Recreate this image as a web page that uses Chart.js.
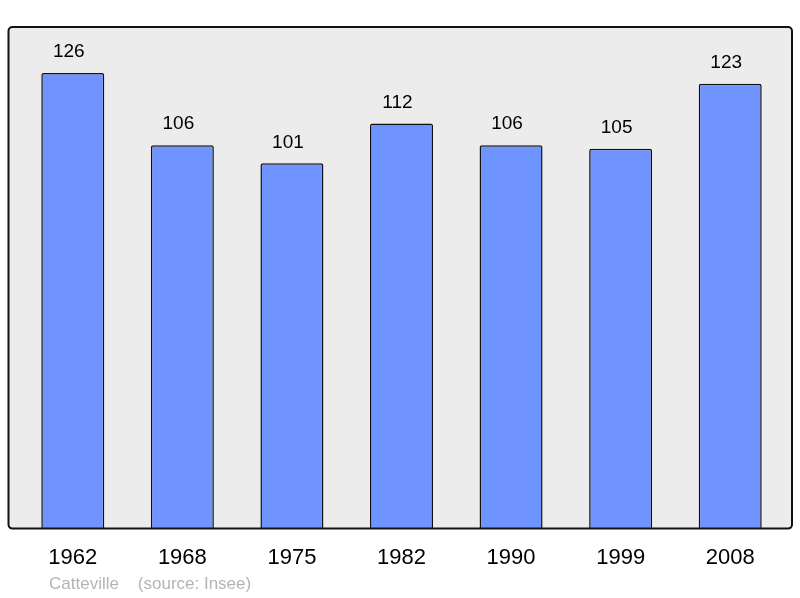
<!DOCTYPE html>
<html>
<head>
<meta charset="utf-8">
<script src="https://cdn.jsdelivr.net/npm/chart.js@4/dist/chart.umd.min.js"></script>
<style>
html,body{margin:0;padding:0;background:#fff;}
#wrap{width:800px;height:598px;position:relative;}
</style>
</head>
<body>
<div id="wrap"><canvas id="c" width="800" height="598"></canvas></div>
<script>
const years = ['1962','1968','1975','1982','1990','1999','2008'];
const population = [126,106,101,112,106,105,123];
const captionText = 'Catteville    (source: Insee)';

const FONT = '"Liberation Sans", Arial, sans-serif';

const framePlugin = {
  id: 'frame',
  beforeDatasetsDraw(chart) {
    const {ctx, chartArea: a} = chart;
    ctx.save();
    ctx.beginPath();
    ctx.roundRect(a.left - 9.5, a.top, a.right - a.left + 16.5, a.bottom - a.top, 4);
    ctx.fillStyle = '#ececec';
    ctx.fill();
    ctx.restore();
  },
  afterDatasetsDraw(chart) {
    const {ctx, chartArea: a} = chart;
    ctx.save();
    ctx.beginPath();
    ctx.roundRect(a.left - 9.5, a.top, a.right - a.left + 16.5, a.bottom - a.top, 4);
    ctx.lineWidth = 2;
    ctx.strokeStyle = '#111';
    ctx.stroke();
    // value labels
    const meta = chart.getDatasetMeta(0);
    ctx.fillStyle = '#000';
    ctx.font = '19px ' + FONT;
    ctx.textAlign = 'center';
    ctx.textBaseline = 'middle';
    meta.data.forEach((bar, i) => {
      ctx.fillText(String(chart.data.datasets[0].data[i]), bar.x - 4, bar.y - 21);
    });
    // caption
    ctx.fillStyle = '#b4b4b4';
    ctx.font = '17px ' + FONT;
    ctx.textAlign = 'left';
    ctx.fillText(captionText, 49, 584);
    ctx.restore();
  }
};

new Chart(document.getElementById('c'), {
  type: 'bar',
  data: {
    labels: years,
    datasets: [{
      data: population,
      backgroundColor: '#7094ff',
      borderColor: '#111',
      borderWidth: 1.5,
      borderRadius: 2,
      categoryPercentage: 1,
      barPercentage: 0.575
    }]
  },
  options: {
    responsive: false,
    animation: false,
    events: [],
    layout: {padding: {left: 18, right: 15, top: 27, bottom: 11}},
    plugins: {legend: {display: false}, tooltip: {enabled: false}},
    scales: {
      x: {
        offset: true,
        grid: {display: false, drawTicks: false},
        border: {display: false},
        ticks: {color: '#000', font: {family: FONT, size: 22}, padding: 16, maxRotation: 0}
      },
      y: {
        display: false,
        min: 0,
        max: 138.7
      }
    }
  },
  plugins: [framePlugin]
});
</script>
</body>
</html>
